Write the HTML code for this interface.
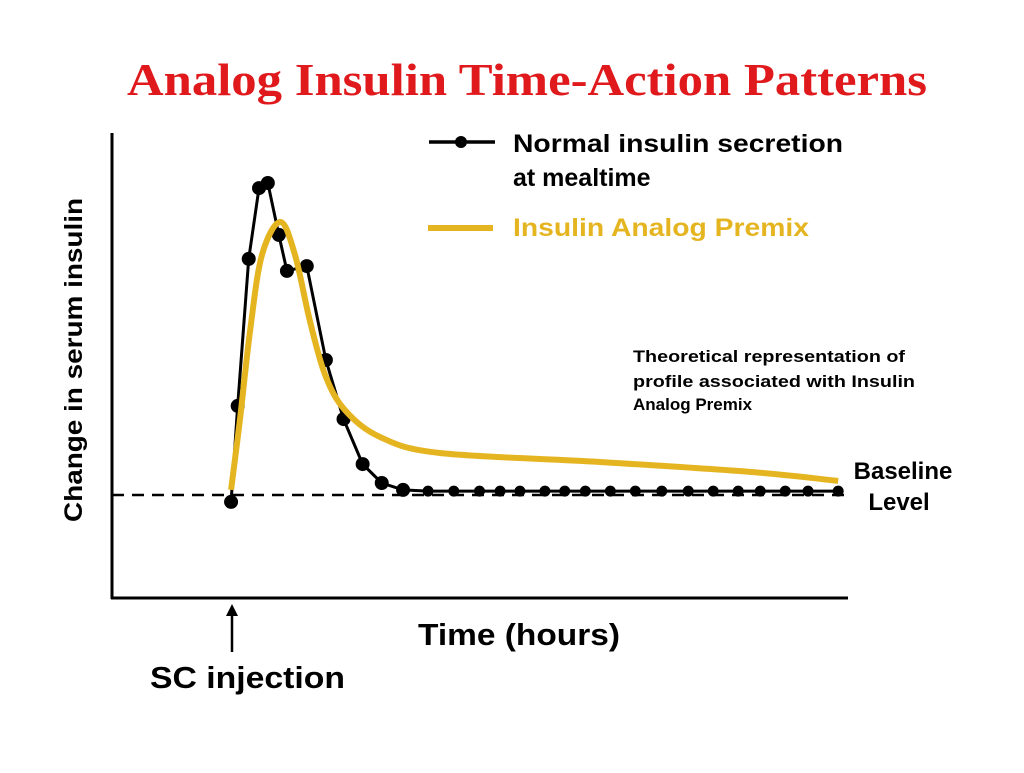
<!DOCTYPE html>
<html><head><meta charset="utf-8"><style>
body{margin:0;background:#fff}
svg text{font-family:"Liberation Sans",sans-serif}
</style></head><body>
<svg width="1024" height="768" viewBox="0 0 1024 768">
<text x="127" y="95" textLength="800" lengthAdjust="spacingAndGlyphs" fill="#e0191c" style="font-family:'Liberation Serif',serif;font-size:46px;font-weight:bold">Analog Insulin Time-Action Patterns</text>
<line x1="112" y1="133" x2="112" y2="599" stroke="#000" stroke-width="3"/>
<line x1="111" y1="598" x2="848" y2="598" stroke="#000" stroke-width="3"/>
<line x1="112" y1="495" x2="846" y2="495" stroke="#000" stroke-width="2.5" stroke-dasharray="12,8"/>
<text transform="translate(82,522) rotate(-90)" textLength="324" lengthAdjust="spacingAndGlyphs" font-size="25" font-weight="bold">Change in serum insulin</text>
<text x="418" y="645" textLength="202" lengthAdjust="spacingAndGlyphs" font-size="31" font-weight="bold">Time (hours)</text>
<line x1="232" y1="652" x2="232" y2="612" stroke="#000" stroke-width="2.5"/>
<polygon points="232,604 226,616 238,616" fill="#000"/>
<text x="150" y="688" textLength="195" lengthAdjust="spacingAndGlyphs" font-size="31" font-weight="bold">SC injection</text>
<text x="903" y="479" text-anchor="middle" font-size="24" font-weight="bold">Baseline</text>
<text x="899" y="510" text-anchor="middle" font-size="24" font-weight="bold">Level</text>
<g>
<line x1="429" y1="142" x2="495" y2="142" stroke="#000" stroke-width="3.5"/>
<circle cx="461" cy="142" r="6" fill="#000"/>
<text x="513" y="152" textLength="330" lengthAdjust="spacingAndGlyphs" font-size="25" font-weight="bold">Normal insulin secretion</text>
<text x="513" y="186" font-size="25" font-weight="bold">at mealtime</text>
<line x1="428" y1="228" x2="493" y2="228" stroke="#e5b521" stroke-width="6"/>
<text x="513" y="236" textLength="296" lengthAdjust="spacingAndGlyphs" font-size="25" fill="#e5b521" font-weight="bold">Insulin Analog Premix</text>
</g>
<g font-size="17" font-weight="bold">
<text x="633" y="362" textLength="272" lengthAdjust="spacingAndGlyphs">Theoretical representation of</text>
<text x="633" y="387" textLength="282" lengthAdjust="spacingAndGlyphs">profile associated with Insulin</text>
<text x="633" y="410">Analog Premix</text>
</g>
<g id="plot"></g>
</svg>
<script>
const normalX=[16.2,17.1,18.6,20.0,21.2,22.7,23.8,26.5,29.1,31.5,34.1,36.7,39.6,43.0,46.5,50.0,52.8,55.5,58.9,61.6,64.4,67.8,71.2,74.8,78.4,81.8,85.2,88.2,91.6,94.7,98.8];
const normalY=[-2.3,29.7,78.7,102.3,104,86.7,74.7,76.3,45,25.3,10.3,4,1.7,1.3,1.3,1.3,1.3,1.3,1.3,1.3,1.3,1.3,1.3,1.3,1.3,1.3,1.3,1.3,1.3,1.3,1.3];
const premixX=[16.2,17.4,18.8,20.4,22.9,24.9,26.9,29.0,31.7,36.5,44.6,66.4,86.8,98.8];
const premixY=[1.7,25,55,80,91,80,58.3,40,28.3,19.3,14,11,7.7,4.7];
const sx=v=>112+v*7.35, sy=v=>495-v*3;
const g=document.getElementById('plot'), NS='http://www.w3.org/2000/svg';
const P=premixX.map((x,i)=>[sx(x),sy(premixY[i])]);
let d='M'+P[0];
for(let i=0;i<P.length-1;i++){const p0=P[i-1]||P[i],p1=P[i],p2=P[i+1],p3=P[i+2]||p2;
d+=' C'+(p1[0]+(p2[0]-p0[0])/6)+','+(p1[1]+(p2[1]-p0[1])/6)+' '+(p2[0]-(p3[0]-p1[0])/6)+','+(p2[1]-(p3[1]-p1[1])/6)+' '+p2;}
const yl=document.createElementNS(NS,'path');
yl.setAttribute('d',d);yl.setAttribute('fill','none');yl.setAttribute('stroke','#e5b521');yl.setAttribute('stroke-width','6');yl.setAttribute('stroke-linejoin','round');


const bl=document.createElementNS(NS,'polyline');
bl.setAttribute('points',normalX.map((x,i)=>sx(x)+','+sy(normalY[i])).join(' '));
bl.setAttribute('fill','none');bl.setAttribute('stroke','#000');bl.setAttribute('stroke-width','3');


g.appendChild(bl);
normalX.forEach((x,i)=>{const c=document.createElementNS(NS,'circle');
c.setAttribute('cx',sx(x));c.setAttribute('cy',sy(normalY[i]));c.setAttribute('r',i<13?7:5.5);


g.appendChild(c);});
g.appendChild(yl);
</script>
</body></html>
